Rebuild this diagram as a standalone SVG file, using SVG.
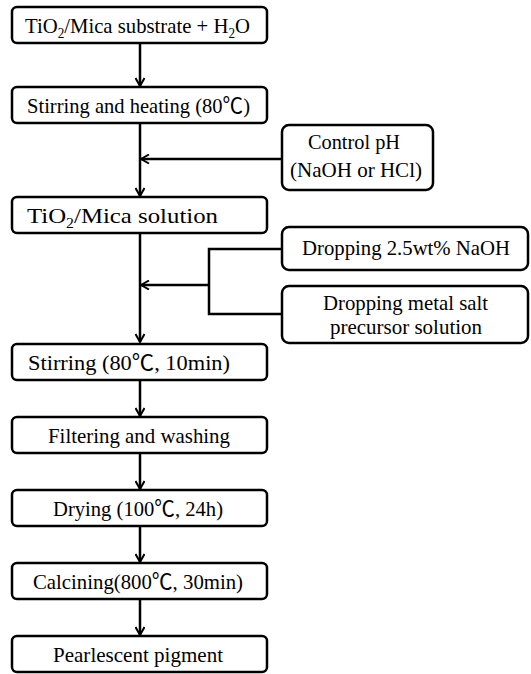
<svg xmlns="http://www.w3.org/2000/svg" width="531" height="674" viewBox="0 0 531 674">
<style>
.box{fill:#fff;stroke:#000;stroke-width:2.5}
.t{font-family:"Liberation Serif","Times New Roman","Noto Sans CJK KR",serif;font-size:22px;fill:#000}
.ln{stroke:#000;stroke-width:2.5;fill:none}
.sub{font-size:14px}
</style>
<defs>
<marker id="ah" viewBox="0 0 10 10" refX="9" refY="5" markerWidth="10" markerHeight="10" markerUnits="userSpaceOnUse" orient="auto">
<path d="M1,0.5 L9,5 L1,9.5" fill="none" stroke="#000" stroke-width="2"/>
</marker>
</defs>
<rect width="531" height="674" fill="#fff"/>
<g id="connectors">
<line class="ln" x1="140" y1="44" x2="140" y2="86" marker-end="url(#ah)"/>
<line class="ln" x1="140" y1="124" x2="140" y2="196" marker-end="url(#ah)"/>
<line class="ln" x1="282" y1="159" x2="141" y2="159" marker-end="url(#ah)"/>
<line class="ln" x1="140" y1="234" x2="140" y2="342" marker-end="url(#ah)"/>
<polyline class="ln" points="282,249 209,249 209,314 282,314"/>
<line class="ln" x1="209" y1="285" x2="141" y2="285" marker-end="url(#ah)"/>
<line class="ln" x1="140" y1="381" x2="140" y2="416" marker-end="url(#ah)"/>
<line class="ln" x1="140" y1="454" x2="140" y2="489" marker-end="url(#ah)"/>
<line class="ln" x1="140" y1="527" x2="140" y2="562" marker-end="url(#ah)"/>
<line class="ln" x1="140" y1="600" x2="140" y2="635" marker-end="url(#ah)"/>
</g>
<g id="n1"><rect class="box" x="12" y="7" width="255" height="36" rx="5"/>
<text class="t" x="25" y="33" textLength="225" lengthAdjust="spacingAndGlyphs">TiO<tspan class="sub" dy="5">2</tspan><tspan dy="-5">/Mica substrate + H</tspan><tspan class="sub" dy="5">2</tspan><tspan dy="-5">O</tspan></text></g>
<g id="n2"><rect class="box" x="12" y="87" width="255" height="36" rx="5"/>
<text class="t" x="27" y="113" textLength="223" lengthAdjust="spacingAndGlyphs">Stirring and heating (80℃)</text></g>
<g id="n3"><rect class="box" x="282" y="125" width="151" height="65" rx="7"/>
<text class="t" x="308" y="149" textLength="92" lengthAdjust="spacingAndGlyphs">Control pH</text>
<text class="t" x="290" y="177" textLength="132" lengthAdjust="spacingAndGlyphs">(NaOH or HCl)</text></g>
<g id="n4"><rect class="box" x="12" y="197" width="255" height="36" rx="5"/>
<text class="t" x="27" y="223" textLength="191" lengthAdjust="spacingAndGlyphs">TiO<tspan class="sub" dy="5">2</tspan><tspan dy="-5">/Mica solution</tspan></text></g>
<g id="n5"><rect class="box" x="282" y="227" width="246" height="43" rx="7"/>
<text class="t" x="302" y="255" textLength="208" lengthAdjust="spacingAndGlyphs">Dropping 2.5wt% NaOH</text></g>
<g id="n6"><rect class="box" x="282" y="286" width="246" height="57" rx="7"/>
<text class="t" x="323" y="310" textLength="165" lengthAdjust="spacingAndGlyphs">Dropping metal salt</text>
<text class="t" x="330" y="334" textLength="152" lengthAdjust="spacingAndGlyphs">precursor solution</text></g>
<g id="n7"><rect class="box" x="12" y="344" width="255" height="36" rx="5"/>
<text class="t" x="28" y="370" textLength="202" lengthAdjust="spacingAndGlyphs">Stirring (80℃, 10min)</text></g>
<g id="n8"><rect class="box" x="12" y="417" width="255" height="36" rx="5"/>
<text class="t" x="48" y="443" textLength="182" lengthAdjust="spacingAndGlyphs">Filtering and washing</text></g>
<g id="n9"><rect class="box" x="12" y="490" width="255" height="36" rx="5"/>
<text class="t" x="53" y="516" textLength="170" lengthAdjust="spacingAndGlyphs">Drying (100℃, 24h)</text></g>
<g id="n10"><rect class="box" x="12" y="563" width="255" height="36" rx="5"/>
<text class="t" x="33" y="589" textLength="210" lengthAdjust="spacingAndGlyphs">Calcining(800℃, 30min)</text></g>
<g id="n11"><rect class="box" x="12" y="636" width="255" height="36" rx="5"/>
<text class="t" x="53" y="662" textLength="170" lengthAdjust="spacingAndGlyphs">Pearlescent pigment</text></g>
</svg>
